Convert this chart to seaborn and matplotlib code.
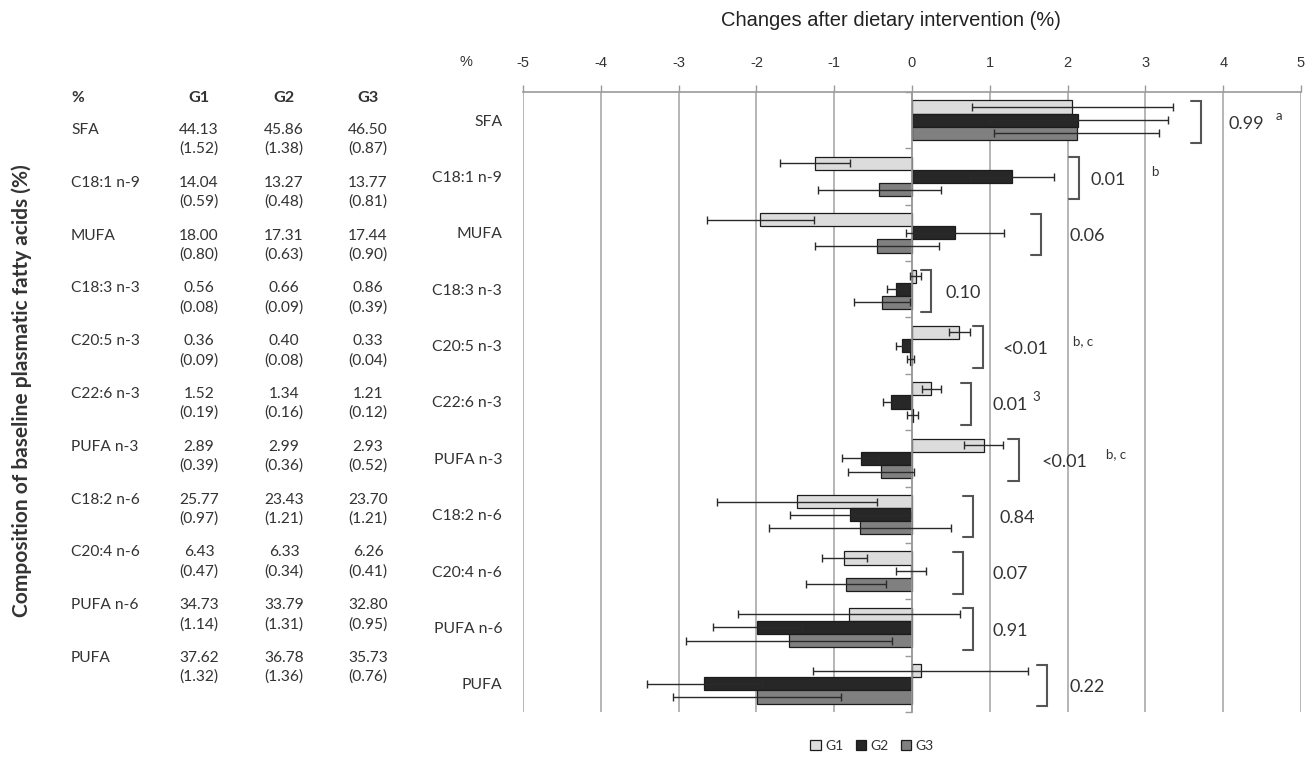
import numpy as np
import pandas as pd
import matplotlib
matplotlib.use("Agg")
import matplotlib.pyplot as plt
import seaborn as sns

# ---------------- data ----------------
categories = ["SFA", "C18:1 n-9", "MUFA", "C18:3 n-3", "C20:5 n-3", "C22:6 n-3",
              "PUFA n-3", "C18:2 n-6", "C20:4 n-6", "PUFA n-6", "PUFA"]
groups = ["G1", "G2", "G3"]

change_g1 = [2.06, -1.25, -1.95, 0.05, 0.61, 0.25, 0.92, -1.48, -0.87, -0.81, 0.11]
change_g2 = [2.14, 1.29, 0.55, -0.20, -0.13, -0.27, -0.66, -0.80, -0.01, -1.99, -2.67]
change_g3 = [2.12, -0.42, -0.45, -0.39, -0.02, 0.01, -0.40, -0.67, -0.85, -1.58, -1.99]
err_g1 = [1.29, 0.45, 0.69, 0.07, 0.14, 0.12, 0.25, 1.03, 0.29, 1.43, 1.38]
err_g2 = [1.15, 0.54, 0.63, 0.12, 0.08, 0.10, 0.24, 0.77, 0.19, 0.57, 0.74]
err_g3 = [1.06, 0.79, 0.80, 0.36, 0.04, 0.07, 0.42, 1.17, 0.51, 1.32, 1.08]

p_values = ["0.99", "0.01", "0.06", "0.10", "<0.01", "0.01", "<0.01", "0.84", "0.07", "0.91", "0.22"]
p_sup = ["a", "b", "", "", "b, c", "3", "b, c", "", "", "", ""]

base_g1 = ["44.13", "14.04", "18.00", "0.56", "0.36", "1.52", "2.89", "25.77", "6.43", "34.73", "37.62"]
sd_g1 = ["1.52", "0.59", "0.80", "0.08", "0.09", "0.19", "0.39", "0.97", "0.47", "1.14", "1.32"]
base_g2 = ["45.86", "13.27", "17.31", "0.66", "0.40", "1.34", "2.99", "23.43", "6.33", "33.79", "36.78"]
sd_g2 = ["1.38", "0.48", "0.63", "0.09", "0.08", "0.16", "0.36", "1.21", "0.34", "1.31", "1.36"]
base_g3 = ["46.50", "13.77", "17.44", "0.86", "0.33", "1.21", "2.93", "23.70", "6.26", "32.80", "35.73"]
sd_g3 = ["0.87", "0.81", "0.90", "0.39", "0.04", "0.12", "0.52", "1.21", "0.41", "0.95", "0.76"]

# annotation layout (data x positions for brackets / p-value text)
bracket_x = [3.72, 2.15, 1.66, 0.25, 0.91, 0.76, 1.37, 0.78, 0.66, 0.79, 1.74]
text_x = [4.07, 2.30, 2.03, 0.43, 1.16, 1.04, 1.67, 1.13, 1.04, 1.04, 2.03]
sup_x = [4.68, 3.08, 0, 0, 2.07, 1.55, 2.50, 0, 0, 0, 0]

# ---------------- style ----------------
sns.set_theme(style="white")
plt.rcParams["font.family"] = ["Lato", "DejaVu Sans"]
narrow = ["Liberation Sans Narrow", "Liberation Sans", "DejaVu Sans"]
palette = {"G1": "#dcdcdc", "G2": "#272727", "G3": "#808080"}
txt_col = "#333333"

W, H = 1315, 758
fig = plt.figure(figsize=(W / 100, H / 100), dpi=100)
ax = fig.add_axes([523 / W, 1 - 712 / H, (1301 - 523) / W, (712 - 92) / H])

df = pd.DataFrame({
    "fa": categories * 3,
    "group": np.repeat(groups, len(categories)),
    "change": change_g1 + change_g2 + change_g3,
})

sns.barplot(data=df, x="change", y="fa", hue="group", order=categories,
            hue_order=groups, orient="h", palette=palette, saturation=1,
            edgecolor="#1c1c1c", linewidth=0.9, width=0.7, errorbar=None, ax=ax)

for cont, e in zip(ax.containers, [err_g1, err_g2, err_g3]):
    ys = [b.get_y() + b.get_height() / 2 for b in cont]
    xs = list(cont.datavalues)
    ax.errorbar(xs, ys, xerr=e, fmt="none", ecolor="#2a2a2a", elinewidth=1.0,
                capsize=3, capthick=1.0, zorder=5)

ax.set_xlim(-5, 5)
ax.set_ylim(10.5, -0.5)
ax.set_xticks(range(-5, 6))
ax.set_xticklabels([str(v) for v in range(-5, 6)], family=narrow, fontsize=10.5, color=txt_col)
ax.xaxis.tick_top()
ax.tick_params(axis="x", which="major", top=True, bottom=False, labeltop=True,
               labelbottom=False, length=5, width=1, color="#9a9a9a", pad=11)
ax.grid(axis="x", color="#b0b0b0", lw=1.3)
ax.grid(axis="y", visible=False)
ax.set_axisbelow(True)

for s in ["left", "bottom"]:
    ax.spines[s].set_visible(False)
ax.spines["top"].set_color("#9a9a9a")
ax.spines["top"].set_linewidth(1.2)
ax.spines["right"].set_position(("data", 0))
ax.spines["right"].set_color("#9a9a9a")
ax.spines["right"].set_linewidth(1.2)

ax.set_yticks(range(len(categories)))
ax.set_yticklabels(categories, fontsize=11.3, color=txt_col)
ax.set_yticks(np.arange(-0.5, len(categories), 1), minor=True)
ax.tick_params(axis="y", which="major", left=False, right=False, labelleft=True,
               labelright=False, pad=9)
ax.tick_params(axis="y", which="minor", left=False, right=True, direction="in",
               length=5, width=1, color="#9a9a9a", labelright=False)
ax.set_xlabel("")
ax.set_ylabel("")

# brackets and p-values
for i, (bx, tx, pv, sp, sx) in enumerate(zip(bracket_x, text_x, p_values, p_sup, sup_x)):
    y0, y1 = i - 0.34, i + 0.40
    ax.plot([bx - 0.13, bx, bx, bx - 0.13], [y0, y0, y1, y1], color="#555555",
            lw=1.5, solid_joinstyle="miter", zorder=6, clip_on=False)
    ax.text(tx, i + 0.06, pv, ha="left", va="center", fontsize=13, color=txt_col, zorder=7)
    if sp:
        ax.text(sx, i - 0.08, sp, ha="left", va="center", fontsize=9.5, color=txt_col,
                zorder=7, bbox=dict(facecolor="white", edgecolor="none", pad=3))

# legend
handles, labels = ax.get_legend_handles_labels()
if ax.get_legend() is not None:
    ax.get_legend().remove()
fig.legend(handles, labels, loc="center", bbox_to_anchor=(872 / W, 1 - 746 / H), ncol=3,
           frameon=False, handlelength=0.75, handleheight=0.75, handletextpad=0.3,
           columnspacing=0.9, fontsize=10, labelcolor=txt_col)

# titles
fig.text(891 / W, 1 - 20 / H, "Changes after dietary intervention (%)", ha="center",
         va="center", fontsize=14.5, family=narrow, color="#222222")
fig.text(466 / W, 1 - 62 / H, "%", ha="center", va="center", fontsize=10.5,
         family=narrow, color=txt_col)
fig.text(22 / W, 1 - 391 / H, "Composition of baseline plasmatic fatty acids (%)",
         rotation=90, ha="center", va="center", fontsize=15, fontweight="bold",
         color="#333333")

# baseline table
col_x = [199, 284, 368]
fs_tab = 11.2
fig.text(71 / W, 1 - 98 / H, "%", ha="left", va="center", fontsize=fs_tab, fontweight="bold", color=txt_col)
for cx, g in zip(col_x, groups):
    fig.text(cx / W, 1 - 98 / H, g, ha="center", va="center", fontsize=fs_tab + 0.5,
             fontweight="bold", color=txt_col)
row_y0, row_dy = 130, 52.8
for i, name in enumerate(categories):
    y = row_y0 + i * row_dy
    fig.text(71 / W, 1 - y / H, name, ha="left", va="center", fontsize=fs_tab, color=txt_col)
    for cx, b, s in zip(col_x, [base_g1, base_g2, base_g3], [sd_g1, sd_g2, sd_g3]):
        fig.text(cx / W, 1 - y / H, b[i], ha="center", va="center", fontsize=fs_tab, color=txt_col)
        fig.text(cx / W, 1 - (y + 19) / H, "(" + s[i] + ")", ha="center", va="center",
                 fontsize=fs_tab, color=txt_col)

fig.savefig("out.png", dpi=100, facecolor="white")
